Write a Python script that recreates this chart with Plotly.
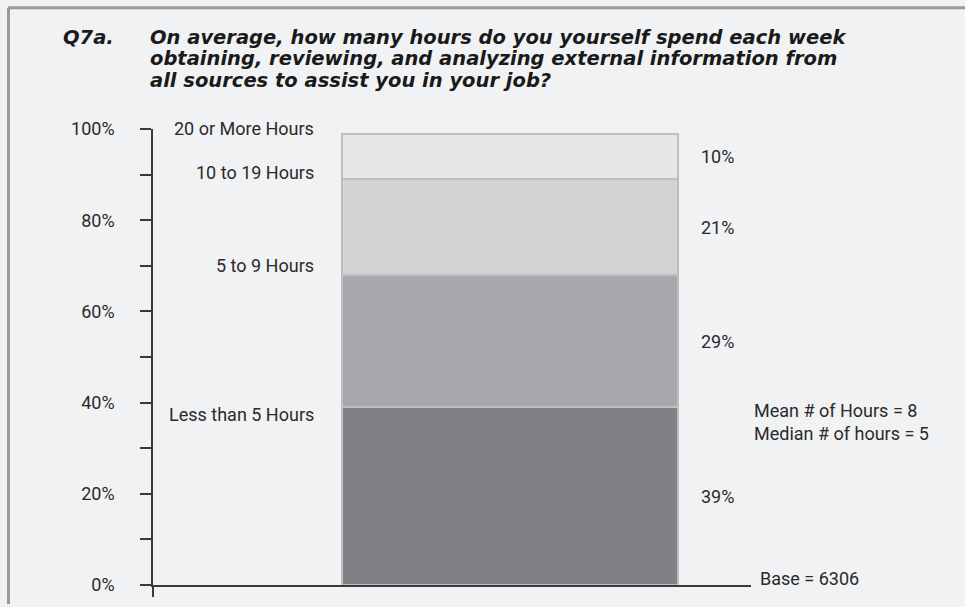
import plotly.graph_objects as go

# Share of respondents by weekly hours spent on external information (bottom to top)
categories = ["Less than 5 Hours", "5 to 9 Hours", "10 to 19 Hours", "20 or More Hours"]
shares = [39, 29, 21, 10]
colors = ["#808184", "#a7a8ab", "#d1d2d4", "#e6e7e8"]

tick_vals = [0, 10, 20, 30, 40, 50, 60, 70, 80, 90, 100]
tick_text = ["0%", "", "20%", "", "40%", "", "60%", "", "80%", "", "100%"]

mean_hours = 8
median_hours = 5
base_n = 6306

question_id = "Q7a."
title_lines = [
    "On average, how many hours do you yourself spend each week",
    "obtaining, reviewing, and analyzing external information from",
    "all sources to assist you in your job?",
]

W, H = 965, 607
ML, MR, MT, MB = 153, 214, 129, 19
PW, PH = W - ML - MR, H - MT - MB

BG = "#f1f2f4"
INK = "#2b2a2b"
FONT = "Roboto, Liberation Sans, sans-serif"
TFONT = "DejaVu Sans, Liberation Sans, sans-serif"


def px_x(px):
    """Figure pixel column -> paper x (relative to plot area)."""
    return (px - ML) / PW


def px_y(py):
    """Figure pixel row -> paper y (relative to plot area)."""
    return (MT + PH - py) / PH


bar_x = px_x(510)
bar_w = 336 / PW

fig = go.Figure()
for cat, val, col in zip(categories, shares, colors):
    fig.add_trace(go.Bar(
        x=[bar_x], y=[val], width=bar_w, name=cat,
        marker=dict(color=col, line=dict(color="#bdbec0", width=2)),
        hoverinfo="name+y", showlegend=False,
    ))

annotations = []

# category names to the left of the bar, anchored near each segment's top
cum = 0
label_shift = [-7, 9, 6.5, 5.5]
for cat, val, ys in zip(categories, shares, label_shift):
    cum += val
    annotations.append(dict(
        x=px_x(316), y=cum, xref="paper", yref="y", text=cat,
        showarrow=False, xanchor="right", yanchor="middle", yshift=ys,
        font=dict(family=FONT, size=18, color=INK),
    ))

# value labels to the right of the bar, at segment midpoints
cum = 0
for val in shares:
    mid = cum + val / 2
    cum += val
    annotations.append(dict(
        x=px_x(699), y=mid, xref="paper", yref="y", text=f"{val}%",
        showarrow=False, xanchor="left", yanchor="middle",
        font=dict(family=FONT, size=18, color=INK),
    ))

annotations.append(dict(
    x=px_x(752), y=px_y(424), xref="paper", yref="paper",
    text=f"Mean # of Hours = {mean_hours}<br>Median # of hours = {median_hours}",
    showarrow=False, xanchor="left", yanchor="middle", align="left",
    font=dict(family=FONT, size=18, color=INK),
))
annotations.append(dict(
    x=px_x(758), y=px_y(581), xref="paper", yref="paper",
    text=f"Base = {base_n}",
    showarrow=False, xanchor="left", yanchor="middle",
    font=dict(family=FONT, size=18, color=INK),
))

# question heading
annotations.append(dict(
    x=px_x(61), y=px_y(37), xref="paper", yref="paper",
    text=f"<b><i>{question_id}</i></b>",
    showarrow=False, xanchor="left", yanchor="middle",
    font=dict(family=TFONT, size=19.5, color="#1a1a1a"),
))
for i, line in enumerate(title_lines):
    annotations.append(dict(
        x=px_x(148), y=px_y(37 + 21.5 * i), xref="paper", yref="paper",
        text=f"<b><i>{line}</i></b>",
        showarrow=False, xanchor="left", yanchor="middle", align="left",
        font=dict(family=TFONT, size=19.5, color="#1a1a1a"),
    ))

shapes = [
    # panel frame (top and left edges)
    dict(type="line", xref="paper", yref="paper",
         x0=px_x(8), x1=px_x(W), y0=px_y(7), y1=px_y(7),
         line=dict(color="#9a9a9a", width=3)),
    dict(type="line", xref="paper", yref="paper",
         x0=px_x(8.5), x1=px_x(8.5), y0=px_y(H), y1=px_y(7),
         line=dict(color="#9a9a9a", width=3)),
]

fig.update_layout(
    width=W, height=H,
    margin=dict(l=ML, r=MR, t=MT, b=MB, pad=0),
    paper_bgcolor=BG, plot_bgcolor=BG,
    barmode="stack", bargap=0,
    annotations=annotations,
    shapes=shapes,
    xaxis=dict(
        range=[0, 1], showgrid=False, zeroline=False,
        showline=True, linecolor="#3a3a3a", linewidth=1.5,
        tickvals=[0], ticktext=[""], ticks="outside", ticklen=10,
        tickcolor="#3a3a3a", tickwidth=1.5, fixedrange=True,
    ),
    yaxis=dict(
        range=[0, 100], showgrid=False, zeroline=False,
        showline=True, linecolor="#3a3a3a", linewidth=1.5,
        tickvals=tick_vals, ticktext=tick_text, ticks="outside", ticklen=11,
        tickcolor="#3a3a3a", tickwidth=1.5, ticklabelstandoff=22,
        tickfont=dict(family=FONT, size=18, color=INK), fixedrange=True,
    ),
)

fig.write_html("out.html")
